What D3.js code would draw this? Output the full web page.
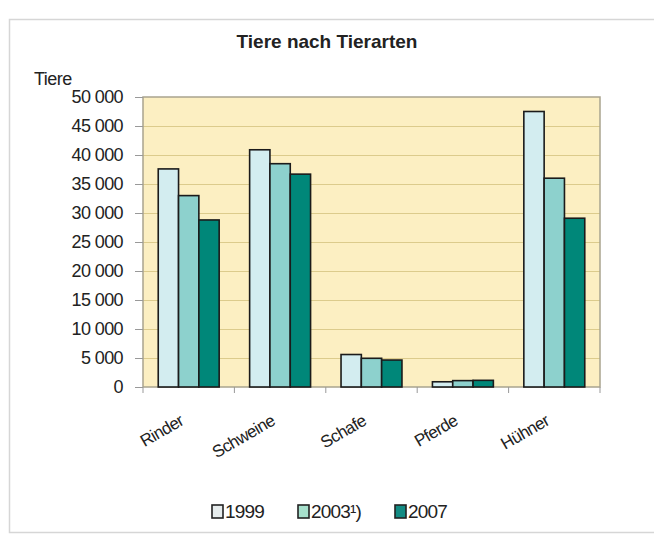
<!DOCTYPE html>
<html>
<head>
<meta charset="utf-8">
<script src="https://cdn.jsdelivr.net/npm/d3@7"></script>
<style>
  body { margin:0; background:#fff; }
  text { font-family: "Liberation Sans", Arial, sans-serif; fill:#222; }
  .title { font-weight:bold; font-size:19px; }
  .tick text { font-size:18px; }
</style>
</head>
<body>
<div class="canvas"></div>
<script>
//DATA
var categories = ["Rinder", "Schweine", "Schafe", "Pferde", "Hühner"];
var years = ["1999", "2003¹)", "2007"];
var v1999 = [37600, 40900, 5600, 900, 47500];
var v2003 = [33000, 38500, 4950, 1100, 36000];
var v2007 = [28800, 36700, 4650, 1150, 29100];
var yTicks = [0, 5000, 10000, 15000, 20000, 25000, 30000, 35000, 40000, 45000, 50000];

//VIZ DIMENSIONS
var w = 654, h = 540;
var plot = { left:143, right:600, top:97, bottom:387 };

var barColors = ["#d3edf0", "#8dd1cd", "#008779"];
var legendColors = ["#e6eced", "#a6e0cc", "#138b83"];

var svg = d3.select('.canvas').append('svg')
    .attr('width', w)
    .attr('height', h);

//OUTER FRAME
svg.append('rect')
    .attr('x', 9.5).attr('y', 19.5)
    .attr('width', 700).attr('height', 513)
    .attr('fill', 'none')
    .attr('stroke', '#d6d6d6')
    .attr('stroke-width', 1.5);

//TITLE
svg.append('text')
    .attr('class', 'title')
    .attr('x', 327).attr('y', 48)
    .attr('text-anchor', 'middle')
    .text('Tiere nach Tierarten');

svg.append('text')
    .attr('x', 34).attr('y', 85)
    .style('font-size', '18px')
    .style('letter-spacing', '-0.5px')
    .text('Tiere');

//SCALES
var y = d3.scaleLinear().domain([0, 50000]).range([plot.bottom, plot.top]);
var x = d3.scaleBand().domain(categories).range([plot.left, plot.right])
    .paddingInner(1/3).paddingOuter(1/6);
var xInner = d3.scaleBand().domain(years).range([0, x.bandwidth()]);

//PLOT BACKGROUND
svg.append('rect')
    .attr('x', plot.left).attr('y', plot.top)
    .attr('width', plot.right - plot.left)
    .attr('height', plot.bottom - plot.top)
    .attr('fill', '#fcefc2');

//GRIDLINES
svg.append('g')
    .selectAll('line')
    .data(yTicks.filter(d => d > 0 && d < 50000))
    .enter().append('line')
        .attr('x1', plot.left).attr('x2', plot.right)
        .attr('y1', d => Math.round(y(d)) + 0.5)
        .attr('y2', d => Math.round(y(d)) + 0.5)
        .attr('stroke', '#dccb8c')
        .attr('stroke-width', 1.2);

svg.append('rect')
    .attr('x', plot.left).attr('y', plot.top)
    .attr('width', plot.right - plot.left)
    .attr('height', plot.bottom - plot.top)
    .attr('fill', 'none')
    .attr('stroke', '#a9a48f')
    .attr('stroke-width', 1.5);

//Y AXIS
var fmt = d => d3.format(',')(d).replace(/,/g, ' ');
svg.append('g')
    .attr('transform', 'translate(' + plot.left + ',0)')
    .call(d3.axisLeft(y).tickValues(yTicks).tickFormat(fmt).tickSize(8).tickPadding(12))
    .call(g => g.select('.domain').remove())
    .call(g => g.selectAll('.tick line').attr('stroke', '#999'))
    .call(g => g.selectAll('.tick text').attr('fill', '#222').style('letter-spacing', '-0.6px'));

//BARS
var series = [v1999, v2003, v2007];
var groups = svg.append('g')
    .selectAll('g')
    .data(categories)
    .enter().append('g')
        .attr('transform', d => 'translate(' + x(d) + ',0)');

groups.selectAll('rect')
    .data((c, i) => series.map((s, j) => ({ year: years[j], value: s[i], k: j })))
    .enter().append('rect')
        .attr('x', d => xInner(d.year))
        .attr('y', d => y(d.value))
        .attr('width', xInner.bandwidth())
        .attr('height', d => y(0) - y(d.value))
        .attr('fill', d => barColors[d.k])
        .attr('stroke', '#1b1b1b')
        .attr('stroke-width', 1.6);

//X AXIS (category boundaries)
var bounds = d3.range(categories.length + 1).map(i => plot.left + i * x.step());
svg.append('g')
    .selectAll('line')
    .data(bounds)
    .enter().append('line')
        .attr('x1', d => d).attr('x2', d => d)
        .attr('y1', plot.bottom).attr('y2', plot.bottom + 6)
        .attr('stroke', '#999');

svg.append('g')
    .selectAll('text')
    .data(categories)
    .enter().append('text')
        .attr('text-anchor', 'end')
        .attr('transform', d => 'translate(' + (x(d) + x.bandwidth() / 2 - 4) + ',' + 424 + ') rotate(-30)')
        .style('font-size', '17px')
        .style('letter-spacing', '-0.6px')
        .text(d => d);

//LEGEND
var legendX = [212, 298, 395];
var legend = svg.append('g')
    .selectAll('g')
    .data(years)
    .enter().append('g')
        .attr('transform', (d, i) => 'translate(' + legendX[i] + ',505)');

legend.append('rect')
    .attr('width', 11).attr('height', 13)
    .attr('fill', (d, i) => legendColors[i])
    .attr('stroke', '#222')
    .attr('stroke-width', 1.6);

legend.append('text')
    .attr('x', 13).attr('y', 13)
    .style('font-size', '19px')
    .style('letter-spacing', '-0.8px')
    .text(d => d);
</script>
</body>
</html>
